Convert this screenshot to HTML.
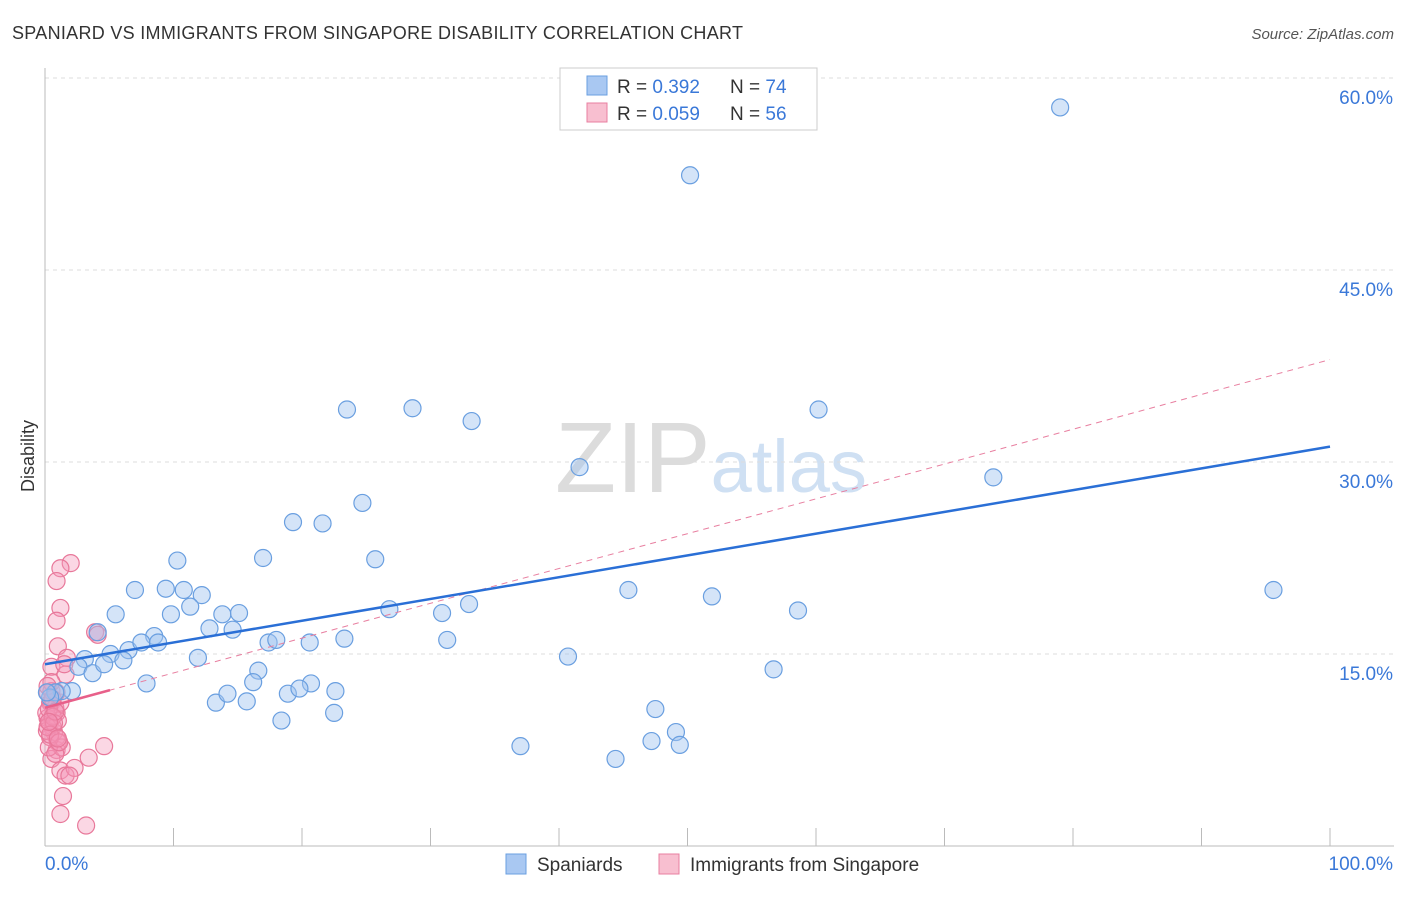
<!DOCTYPE html>
<html><head><meta charset="utf-8"><style>
body{margin:0;background:#fff;font-family:"Liberation Sans",sans-serif}
svg text{font-family:"Liberation Sans",sans-serif}
</style></head><body>
<svg id="chart" width="1406" height="892" viewBox="0 0 1406 892" xmlns="http://www.w3.org/2000/svg">
<text x="12" y="39" font-size="18" fill="#333" textLength="731">SPANIARD VS IMMIGRANTS FROM SINGAPORE DISABILITY CORRELATION CHART</text>
<text x="1394" y="39" font-size="15" fill="#555" font-style="italic" text-anchor="end">Source: ZipAtlas.com</text>
<text x="555" y="492" font-size="100" fill="#dcdcdc" font-family="Liberation Serif">ZIP<tspan fill="#cfe0f3" font-family="Liberation Sans" font-size="74">atlas</tspan></text>
<text x="34" y="456" font-size="18" fill="#333" transform="rotate(-90 34 456)" text-anchor="middle">Disability</text>
<g id="grid"></g><g id="axes"></g><g id="pink"></g><g id="blue"></g><g id="lines"></g>
<g>
<rect x="560" y="68" width="257" height="62" fill="#fff" stroke="#ccc"/>
<rect x="587" y="76" width="20" height="19" fill="#a9c8f2" stroke="#6a9fe0"/>
<rect x="587" y="103" width="20" height="19" fill="#f8bfd0" stroke="#e87fa0"/>
<text x="617" y="93" font-size="19" fill="#333">R = <tspan fill="#3a78d8">0.392</tspan></text>
<text x="730" y="93" font-size="19" fill="#333">N = <tspan fill="#3a78d8">74</tspan></text>
<text x="617" y="120" font-size="19" fill="#333">R = <tspan fill="#3a78d8">0.059</tspan></text>
<text x="730" y="120" font-size="19" fill="#333">N = <tspan fill="#3a78d8">56</tspan></text>
</g>
<g>
<rect x="506" y="854" width="20" height="20" fill="#a9c8f2" stroke="#6a9fe0"/>
<text x="537" y="871" font-size="19" fill="#333">Spaniards</text>
<rect x="659" y="854" width="20" height="20" fill="#f8bfd0" stroke="#e87fa0"/>
<text x="690" y="871" font-size="19" fill="#333">Immigrants from Singapore</text>
</g>
</svg>
<script>
const blueX=[79,50.2,23.5,28.6,33.2,60.2,41.6,73.8,24.7,19.3,21.6,16.97,25.7,10.3,7.0,9.4,10.8,12.2,45.4,51.9,95.6,5.5,9.8,11.3,13.8,15.1,26.8,30.9,33,58.6,4.1,8.5,12.8,14.6,6.5,7.5,8.8,17.4,18,20.6,23.3,31.3,3.1,5.1,6.1,11.9,40.7,2.6,3.7,4.6,16.6,56.7,7.9,16.2,20.7,13.3,14.2,15.7,18.9,19.8,22.6,47.5,18.4,22.5,49.1,47.2,49.4,37,44.4,2.1,1.3,0.8,0.4,0.15];
const blueY=[57.7,52.4,34.1,34.2,33.2,34.1,29.6,28.8,26.8,25.3,25.2,22.5,22.4,22.3,20.0,20.1,20.0,19.6,20.0,19.5,20.0,18.1,18.1,18.7,18.1,18.2,18.5,18.2,18.9,18.4,16.7,16.4,17.0,16.9,15.3,15.9,15.9,15.9,16.1,15.9,16.2,16.1,14.6,15.0,14.5,14.7,14.8,14.0,13.5,14.2,13.7,13.8,12.7,12.8,12.7,11.2,11.9,11.3,11.9,12.3,12.1,10.7,9.8,10.4,8.9,8.2,7.9,7.8,6.8,12.1,12.1,12.0,11.6,12.0];
const pinkX=[2.0,1.2,0.9,1.2,0.9,1.0,3.9,4.1,1.7,0.5,1.6,0.5,0.9,0.4,0.7,1.0,0.9,0.5,1.2,1.6,2.3,1.9,3.4,4.6,1.4,1.2,3.2,0.2,0.4,0.8,0.2,0.6,0.9,1.3,0.4,1.0,0.15,0.5,0.3,0.8,0.1,1.2,0.9,0.5,1.5,0.2,0.3,0.6,0.7,0.4,1.1,0.2,0.6,0.8,0.3,1.0];
const pinkY=[22.1,21.7,20.7,18.6,17.6,15.6,16.7,16.5,14.7,14.0,13.4,11.2,10.4,9.6,8.9,8.1,7.5,6.8,5.9,5.5,6.1,5.5,6.9,7.8,3.9,2.5,1.6,12.0,11.2,10.8,10.0,9.3,8.5,7.7,8.5,9.8,9.0,12.1,7.7,7.2,10.4,11.2,12.0,12.8,14.2,9.3,10.7,10.1,9.6,8.7,8.1,12.5,11.5,10.5,9.7,8.4];
const yTicks=[15,30,45,60];
const blueTrend=[14.2,31.2];
const pinkTrend=[10.8,38.0];
const pinkSolidEnd=5.06;

const sx=v=>45+v*12.85, sy=v=>846-v*12.8;
const NS="http://www.w3.org/2000/svg";
function mk(tag,attrs,parent){const e=document.createElementNS(NS,tag);for(const k in attrs)e.setAttribute(k,attrs[k]);document.getElementById(parent).appendChild(e);return e;}
yTicks.forEach(t=>{
  const l=mk('line',{x1:45,x2:1394,y1:sy(t),y2:sy(t),stroke:'#ddd','stroke-dasharray':'4,4'},'grid');
  
  
  const tx=mk('text',{x:1393,y:sy(t)+26,'font-size':19,fill:'#3a78d8','text-anchor':'end'},'grid');
  tx.textContent=t.toFixed(1)+'%';
  
  
});
mk('line',{x1:45,x2:45,y1:68,y2:846,stroke:'#bbb'},'axes');
mk('line',{x1:45,x2:1394,y1:846,y2:846,stroke:'#bbb'},'axes');
for(let i=1;i<=10;i++){const t=mk('line',{x1:sx(i*10),x2:sx(i*10),y1:828,y2:846,stroke:'#bbb'},'axes');
  
  }
let a=mk('text',{x:45,y:870,'font-size':19,fill:'#3a78d8'},'axes');a.textContent='0.0%';


a=mk('text',{x:1393,y:870,'font-size':19,fill:'#3a78d8','text-anchor':'end'},'axes');a.textContent='100.0%';


pinkX.forEach((x,i)=>{const c=mk('circle',{cx:sx(x),cy:sy(pinkY[i]),r:8.5,fill:'rgba(245,150,185,0.38)',stroke:'#e8789a','stroke-width':1.2},'pink');
  
  });
blueX.forEach((x,i)=>{const c=mk('circle',{cx:sx(x),cy:sy(blueY[i]),r:8.5,fill:'rgba(160,196,240,0.45)',stroke:'#6a9fe0','stroke-width':1.2},'blue');
  
  });
const pAt=x=>pinkTrend[0]+(pinkTrend[1]-pinkTrend[0])*x/100;
let l=mk('line',{x1:sx(0),y1:sy(pinkTrend[0]),x2:sx(100),y2:sy(pinkTrend[1]),stroke:'#e87fa0','stroke-width':1,'stroke-dasharray':'6,5'},'lines');


l=mk('line',{x1:sx(0),y1:sy(pinkTrend[0]),x2:sx(pinkSolidEnd),y2:sy(pAt(pinkSolidEnd)),stroke:'#e8608a','stroke-width':2.5},'lines');


l=mk('line',{x1:sx(0),y1:sy(blueTrend[0]),x2:sx(100),y2:sy(blueTrend[1]),stroke:'#2a6fd6','stroke-width':2.5},'lines');


</script>
</body></html>
